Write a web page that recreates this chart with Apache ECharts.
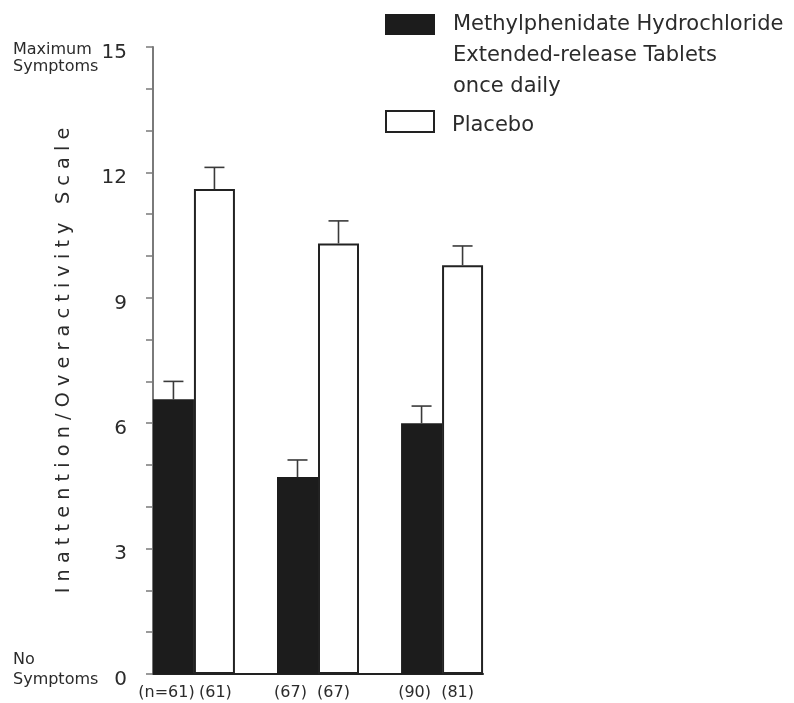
<!DOCTYPE html>
<html>
<head>
<meta charset="utf-8">
<script src="https://cdn.jsdelivr.net/npm/echarts@6/dist/echarts.min.js"></script>
<style>
html,body{margin:0;padding:0;background:#fff;}
#chart{width:794px;height:703px;}
</style>
</head>
<body>
<div id="chart"></div>
<script>
// ---- data ----
var groupPos = [1, 2, 3];
var drugName = 'Methylphenidate Hydrochloride\nExtended-release Tablets\nonce daily';
var placeboName = 'Placebo';
var drugValues = [6.57, 4.71, 6.00];
var drugErr = [0.43, 0.41, 0.41];
var drugN = ['(n=61)', '(67)', '(90)'];
var placeboValues = [11.60, 10.30, 9.78];
var placeboErr = [0.52, 0.54, 0.46];
var placeboN = ['(61)', '(67)', '(81)'];
var yTitle = 'Inattention/Overactivity Scale';
var topLabel = 'Maximum\nSymptoms';
var bottomLabel = 'No\nSymptoms';

// ---- chart ----
var FONT = 'DejaVu Sans';
var TXT = '#2b2b2b';
var BAR_W = 41;

function pairs(vals, firstOffset) {
  return groupPos.map(function (x, i) {
    var item = { value: [x, vals[i]] };
    if (i === 0 && firstOffset) item.label = { offset: firstOffset };
    return item;
  });
}
function errData(vals, errs) { return groupPos.map(function (x, i) { return [x, vals[i], errs[i]]; }); }
function errRender(side) {
  return function (params, api) {
    var x = api.value(0), v = api.value(1), e = api.value(2);
    var b = api.coord([x, v]);
    var t = api.coord([x, v + e]);
    var cx = b[0] + side * BAR_W / 2;
    var st = { stroke: '#3a3a3a', lineWidth: 1.6 };
    return {
      type: 'group', children: [
        { type: 'line', shape: { x1: cx, y1: b[1], x2: cx, y2: t[1] }, style: st },
        { type: 'line', shape: { x1: cx - 10, y1: t[1], x2: cx + 10, y2: t[1] }, style: st }
      ]
    };
  };
}

var chart = echarts.init(document.getElementById('chart'), null, { renderer: 'canvas' });
chart.setOption({
  backgroundColor: '#fff',
  animation: false,
  textStyle: { fontFamily: FONT },
  grid: { left: 153, top: 47, width: 330, height: 627 },
  legend: [
    {
      orient: 'vertical', left: 385, top: -53, padding: 0,
      itemWidth: 50, itemHeight: 21, selectedMode: false, icon: 'rect',
      textStyle: { fontFamily: FONT, fontSize: 21, color: TXT, lineHeight: 31, padding: [0, 0, 0, 13] },
      formatter: function (name) { return '\n\n' + name; },
      data: [{ name: drugName }]
    },
    {
      orient: 'vertical', left: 385, top: 110, padding: 0,
      itemWidth: 48, itemHeight: 21, selectedMode: false, icon: 'rect',
      textStyle: {
        fontFamily: FONT, fontSize: 21, color: TXT, padding: [0, 0, 0, 13],
        rich: { p: { fontFamily: FONT, fontSize: 21, color: TXT, padding: [8, 0, 0, 0] } }
      },
      formatter: function (name) { return '{p|' + name + '}'; },
      data: [{ name: placeboName, itemStyle: { color: '#fff', borderColor: '#222', borderWidth: 2 } }]
    }
  ],
  xAxis: {
    type: 'value', min: 0.67, max: 3.33,
    axisLine: { show: true, lineStyle: { color: '#222', width: 2 } },
    axisTick: { show: false }, axisLabel: { show: false }, splitLine: { show: false }
  },
  yAxis: {
    type: 'value', min: 0, max: 15, interval: 1,
    name: yTitle.split('').join(' '),
    nameLocation: 'middle', nameGap: 80,
    nameTextStyle: { fontFamily: FONT, fontSize: 19.3, color: TXT },
    axisLine: { show: true, lineStyle: { color: '#7a7a7a', width: 2 } },
    axisTick: { show: true, length: 7, lineStyle: { color: '#7a7a7a', width: 1.5 } },
    axisLabel: {
      margin: 26, color: TXT,
      formatter: function (v) { return v % 3 === 0 ? '{t|' + v + '}' : ''; },
      rich: { t: { fontFamily: FONT, fontSize: 20, color: TXT, padding: [11, 0, 0, 0] } }
    },
    splitLine: { show: false }
  },
  series: [
    {
      name: drugName, type: 'bar', data: pairs(drugValues, null), barWidth: BAR_W, barGap: '0%',
      itemStyle: { color: '#1c1c1c' },
      label: {
        show: true, position: 'bottom', distance: 11, offset: [-7, 0],
        fontFamily: FONT, fontSize: 16, color: TXT,
        formatter: function (p) { return drugN[p.dataIndex]; }
      }
    },
    {
      name: placeboName, type: 'bar', data: pairs(placeboValues, [1, 0]), barWidth: BAR_W, barGap: '0%',
      itemStyle: { color: '#fff', borderColor: '#222', borderWidth: 2 },
      label: {
        show: true, position: 'bottom', distance: 11, offset: [-5, 0],
        fontFamily: FONT, fontSize: 16, color: TXT,
        formatter: function (p) { return placeboN[p.dataIndex]; }
      }
    },
    {
      type: 'custom', name: 'drugErr', data: errData(drugValues, drugErr),
      encode: { x: 0, y: 1 }, renderItem: errRender(-1), z: 5
    },
    {
      type: 'custom', name: 'placeboErr', data: errData(placeboValues, placeboErr),
      encode: { x: 0, y: 1 }, renderItem: errRender(1), z: 5
    }
  ],
  graphic: [
    { type: 'text', left: 13, top: 41, style: { text: topLabel, font: '16px "DejaVu Sans"', fill: TXT, lineHeight: 17 } },
    { type: 'text', left: 13, top: 650, style: { text: bottomLabel, font: '16px "DejaVu Sans"', fill: TXT, lineHeight: 20 } }
  ]
});
</script>
</body>
</html>
